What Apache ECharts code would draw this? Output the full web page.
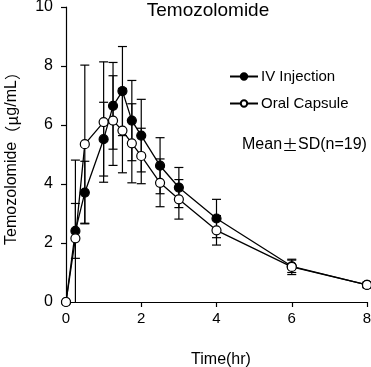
<!DOCTYPE html>
<html><head><meta charset="utf-8">
<script src="https://cdn.jsdelivr.net/npm/echarts@6/dist/echarts.min.js"></script>
<style>html,body{margin:0;padding:0;background:#fff}#c{width:371px;height:367px}</style>
</head><body><div id="c"></div>
<script>
// Data
const time = [0, 0.25, 0.5, 1, 1.25, 1.5, 1.75, 2, 2.5, 3, 4, 6, 8];
const ivMean = [0, 2.41, 3.71, 5.52, 6.65, 7.15, 6.15, 5.64, 4.62, 3.88, 2.83, 1.21, 0.58];
const ivSD   = [0, 0.93, 1.06, 1.25, 1.47, 1.51, 1.36, 1.23, 0.95, 0.68, 0.65, 0.21, 0.08];
const oralMean = [0, 2.16, 5.35, 6.10, 6.15, 5.81, 5.38, 4.95, 4.04, 3.48, 2.43, 1.19, 0.58];
const oralSD   = [0, 2.65, 2.68, 2.04, 1.52, 1.43, 1.34, 0.94, 0.81, 0.67, 0.50, 0.26, 0.10];
const xTicks = [0, 2, 4, 6, 8];
const yTicks = [0, 2, 4, 6, 8, 10];
const seriesNames = ['IV Injection', 'Oral Capsule'];

const FONT = '"Liberation Sans", Arial, sans-serif';
const CJK = '"Noto Sans CJK JP", sans-serif';

const chart = echarts.init(document.getElementById('c'));

function pairs(mean) { return time.map((t, i) => [t, mean[i]]); }
function errData(mean, sd) { return time.map((t, i) => [t, mean[i] - sd[i], mean[i] + sd[i]]); }
function renderErr(params, api) {
  const x = api.value(0), lo = api.value(1), hi = api.value(2);
  if (hi - lo <= 0) return null;
  const top = api.coord([x, hi]);
  const bot = api.coord([x, Math.max(lo, 0)]);
  const hw = 4.5;
  const st = { stroke: '#000', lineWidth: 1.2 };
  const ch = [
    { type: 'line', shape: { x1: top[0], y1: top[1], x2: bot[0], y2: bot[1] }, style: st },
    { type: 'line', shape: { x1: top[0] - hw, y1: top[1], x2: top[0] + hw, y2: top[1] }, style: st }
  ];
  if (lo >= 0) ch.push({ type: 'line', shape: { x1: bot[0] - hw, y1: bot[1], x2: bot[0] + hw, y2: bot[1] }, style: st });
  return { type: 'group', children: ch };
}

const option = {
  animation: false,
  backgroundColor: '#fff',
  title: {
    text: 'Temozolomide', left: 203, top: -4, textAlign: 'center',
    textStyle: { fontFamily: FONT, fontSize: 19, fontWeight: 'normal', color: '#000' }
  },
  legend: {
    orient: 'vertical', left: 229, top: 69, padding: 0, itemWidth: 28, itemHeight: 8, itemGap: 12,
    data: seriesNames,
    textStyle: { fontFamily: FONT, fontSize: 15, color: '#000', padding: [0, 0, 0, -2] }
  },
  grid: { left: 66, right: 4, top: 7, bottom: 65, containLabel: false, outerBoundsMode: 'none' },
  xAxis: {
    type: 'value', min: 0, max: 8, interval: 2,
    name: 'Time(hr)', nameLocation: 'middle', nameGap: 50,
    nameTextStyle: { fontFamily: FONT, fontSize: 16, color: '#000', padding: [0, 0, 0, 9] },
    axisLine: { lineStyle: { color: '#000', width: 1.2 } },
    axisTick: { inside: false, length: 5, lineStyle: { color: '#000', width: 1.2 } },
    axisLabel: { fontFamily: FONT, fontSize: 15, color: '#000', margin: 9,
      formatter: v => xTicks.includes(v) ? String(v) : '' },
    splitLine: { show: false }
  },
  yAxis: {
    type: 'value', min: 0, max: 10, interval: 2,
    name: '{a|Temozolomide}{b|（μ}{a|g/mL}{b|）}', nameLocation: 'middle', nameGap: 46,
    nameTextStyle: { color: '#000', padding: [0, 0, 0, 0], rich: {
      a: { fontFamily: FONT, fontSize: 16, color: '#000' },
      b: { fontFamily: CJK, fontSize: 16, color: '#000' } } },
    axisLine: { show: true, lineStyle: { color: '#000', width: 1.2 } },
    axisTick: { show: true, inside: false, length: 5, lineStyle: { color: '#000', width: 1.2 } },
    axisLabel: { fontFamily: FONT, fontSize: 16, color: '#000', margin: 13,
      formatter: v => yTicks.includes(v) ? String(v) : '' },
    splitLine: { show: false }
  },
  graphic: [{
    type: 'text', left: 242, top: 137,
    style: { text: '{a|Mean}{b|±}{a|SD(n=19)}', rich: {
      a: { fontFamily: FONT, fontSize: 16, fill: '#000' },
      b: { fontFamily: CJK, fontSize: 16, fill: '#000' } } }
  }],
  series: [
    { type: 'custom', name: 'ivErr', renderItem: renderErr, data: errData(ivMean, ivSD),
      encode: { x: 0, y: [1, 2] }, z: 1, silent: true },
    { type: 'custom', name: 'oralErr', renderItem: renderErr, data: errData(oralMean, oralSD),
      encode: { x: 0, y: [1, 2] }, z: 1, silent: true },
    { type: 'line', name: seriesNames[0], data: pairs(ivMean), z: 3,
      symbol: 'circle', symbolSize: 9, showAllSymbol: true,
      lineStyle: { color: '#000', width: 1.3 },
      itemStyle: { color: '#000', borderColor: '#000', borderWidth: 1.2 } },
    { type: 'line', name: seriesNames[1], data: pairs(oralMean), z: 4,
      symbol: 'circle', symbolSize: 9, showAllSymbol: true,
      lineStyle: { color: '#000', width: 1.3 },
      itemStyle: { color: '#fff', borderColor: '#000', borderWidth: 1.2 } }
  ]
};
chart.setOption(option);
</script></body></html>
